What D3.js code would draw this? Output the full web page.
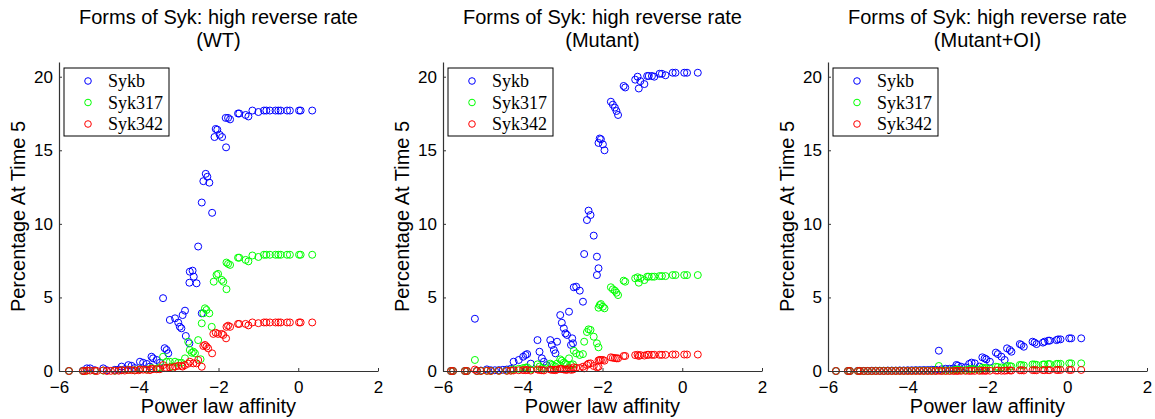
<!DOCTYPE html>
<html>
<head>
<meta charset="utf-8">
<script src="https://cdn.jsdelivr.net/npm/d3@7"></script>
<style>
  html, body { margin: 0; padding: 0; background: #fff; }
  svg { display: block; }
</style>
</head>
<body>
<svg id="chart" width="1155" height="419"></svg>
<script>
// ---------------- DATA ----------------
const seriesNames = ["Sykb", "Syk317", "Syk342"];
const panelSubtitles = ["(WT)", "(Mutant)", "(Mutant+OI)"];
const mainTitle = "Forms of Syk: high reverse rate";
const xLabel = "Power law affinity";
const yLabel = "Percentage At Time 5";
const xTicks = [-6, -4, -2, 0, 2];
const yTicks = [0, 5, 10, 15, 20];

// Panel 1: WT  ([affinity, percentage])
const wtSykb = [[-5.75,0],[-5.4,0.02],[-5.3,0.18],[-5.22,0.18],[-5.1,0.05],[-4.89,0.18],[-4.8,0.05],[-4.6,0.08],[-4.5,0.1],[-4.43,0.3],[-4.35,0.12],[-4.26,0.4],[-4.18,0.35],[-4.1,0.2],[-3.97,0.63],[-3.89,0.56],[-3.8,0.48],[-3.72,0.3],[-3.68,0.97],[-3.64,0.86],[-3.55,0.75],[-3.47,0.56],[-3.39,4.95],[-3.35,1.55],[-3.3,1.43],[-3.26,1.2],[-3.22,3.47],[-3.09,3.58],[-3.01,3.29],[-2.97,3.01],[-2.93,2.9],[-2.9,3.8],[-2.84,4.1],[-2.82,2.38],[-2.73,1.88],[-2.72,6.75],[-2.73,6.0],[-2.65,6.82],[-2.62,6.41],[-2.55,5.96],[-2.51,8.46],[-2.42,11.45],[-2.42,3.92],[-2.38,12.9],[-2.32,13.4],[-2.28,13.2],[-2.23,12.8],[-2.16,10.75],[-2.1,15.9],[-2.07,16.45],[-2.03,16.4],[-1.97,16.05],[-1.91,15.9],[-1.81,15.2],[-1.82,17.2],[-1.76,17.2],[-1.71,17.1],[-1.51,17.5],[-1.48,17.5],[-1.32,17.4],[-1.25,17.3],[-1.15,17.7],[-1.0,17.6],[-0.86,17.7],[-0.8,17.7],[-0.71,17.7],[-0.57,17.7],[-0.5,17.7],[-0.44,17.7],[-0.28,17.7],[-0.21,17.7],[0.02,17.7],[0.06,17.7],[0.35,17.7]];
const wtSyk317 = [[-5.75,0],[-5.4,0],[-5.3,0.02],[-5.1,0.01],[-4.89,0.03],[-4.6,0.02],[-4.43,0.05],[-4.26,0.08],[-4.1,0.05],[-3.97,0.12],[-3.8,0.1],[-3.68,0.2],[-3.55,0.16],[-3.47,0.25],[-3.39,0.97],[-3.3,0.63],[-3.22,0.63],[-3.15,0.3],[-3.09,0.63],[-3.01,0.56],[-2.93,0.56],[-2.84,0.86],[-2.76,1.99],[-2.72,1.43],[-2.67,1.24],[-2.63,1.31],[-2.59,1.2],[-2.51,2.1],[-2.45,0.8],[-2.42,3.24],[-2.38,3.92],[-2.34,4.26],[-2.3,4.15],[-2.23,3.92],[-2.17,3.0],[-2.12,6.07],[-2.05,6.53],[-2.01,6.6],[-1.92,6.19],[-1.88,6.07],[-1.8,5.56],[-1.8,7.37],[-1.76,7.28],[-1.71,7.21],[-1.51,7.7],[-1.48,7.7],[-1.32,7.55],[-1.25,7.45],[-1.15,7.85],[-1.0,7.75],[-0.86,7.9],[-0.8,7.9],[-0.71,7.9],[-0.57,7.9],[-0.5,7.9],[-0.44,7.9],[-0.28,7.9],[-0.21,7.9],[0.02,7.9],[0.06,7.9],[0.35,7.9]];
const wtSyk342 = [[-5.75,0],[-5.4,0],[-5.35,0],[-5.3,0.03],[-5.22,0.03],[-5.1,0.02],[-5.05,0],[-4.89,0.04],[-4.8,0],[-4.7,0.01],[-4.6,0.02],[-4.5,0.02],[-4.43,0.06],[-4.35,0.03],[-4.26,0.07],[-4.18,0.06],[-4.1,0.04],[-4.0,0.05],[-3.97,0.1],[-3.89,0.09],[-3.8,0.08],[-3.72,0.06],[-3.68,0.15],[-3.64,0.13],[-3.55,0.12],[-3.47,0.12],[-3.39,0.4],[-3.35,0.2],[-3.3,0.2],[-3.22,0.25],[-3.15,0.2],[-3.09,0.3],[-3.01,0.35],[-2.93,0.35],[-2.9,0.3],[-2.84,0.4],[-2.76,0.5],[-2.72,0.63],[-2.63,0.52],[-2.55,0.52],[-2.51,0.75],[-2.42,0.29],[-2.38,1.7],[-2.34,1.77],[-2.3,1.66],[-2.26,1.54],[-2.16,1.2],[-2.13,2.52],[-2.07,2.6],[-2.01,2.52],[-1.92,2.52],[-1.88,2.45],[-1.81,2.22],[-1.8,3.0],[-1.76,3.08],[-1.71,3.0],[-1.51,3.2],[-1.48,3.2],[-1.32,3.2],[-1.25,3.1],[-1.15,3.3],[-1.0,3.25],[-0.86,3.3],[-0.8,3.3],[-0.71,3.3],[-0.57,3.3],[-0.5,3.3],[-0.44,3.3],[-0.28,3.3],[-0.21,3.3],[0.02,3.3],[0.06,3.3],[0.35,3.3]];

// Panel 2: Mutant
const mutSykb = [[-5.8,0],[-5.75,0],[-5.45,0],[-5.4,0],[-5.2,3.55],[-5.15,0.02],[-5.05,0.03],[-4.9,0.11],[-4.8,0.05],[-4.7,0.05],[-4.6,0.06],[-4.5,0.08],[-4.4,0.1],[-4.3,0.15],[-4.23,0.63],[-4.1,0.75],[-3.99,0.97],[-3.93,1.09],[-3.89,1.15],[-3.8,0.5],[-3.63,2.1],[-3.58,1.31],[-3.52,0.86],[-3.47,0.63],[-3.4,0.4],[-3.31,2.1],[-3.27,1.77],[-3.22,1.43],[-3.18,1.2],[-3.14,1.99],[-3.06,3.8],[-3.02,3.28],[-2.97,2.9],[-2.93,2.56],[-2.89,2.45],[-2.84,4.03],[-2.79,1.77],[-2.76,2.22],[-2.74,1.88],[-2.72,5.69],[-2.66,5.73],[-2.57,5.46],[-2.49,4.71],[-2.46,7.95],[-2.39,10.26],[-2.35,10.9],[-2.3,10.6],[-2.22,9.2],[-2.14,6.52],[-2.14,7.77],[-2.1,6.98],[-2.1,15.5],[-2.07,15.8],[-2.04,15.75],[-1.99,15.4],[-1.95,15.0],[-1.79,18.3],[-1.74,18.1],[-1.69,17.9],[-1.65,17.67],[-1.61,17.4],[-1.47,19.37],[-1.43,19.27],[-1.18,19.8],[-1.12,20.0],[-1.09,19.2],[-1.05,19.7],[-0.95,19.5],[-0.88,20.05],[-0.84,20.05],[-0.76,20.05],[-0.7,20.0],[-0.57,20.2],[-0.51,20.2],[-0.42,20.1],[-0.24,20.27],[-0.17,20.27],[0.05,20.27],[0.12,20.27],[0.39,20.27]];
const mutSyk317 = [[-5.8,0],[-5.75,0],[-5.45,0],[-5.4,0],[-5.2,0.75],[-5.15,0],[-5.05,0.01],[-4.9,0.02],[-4.8,0.01],[-4.6,0.02],[-4.4,0.03],[-4.3,0.04],[-4.23,0.12],[-4.1,0.15],[-3.99,0.2],[-3.93,0.22],[-3.89,0.25],[-3.8,0.1],[-3.63,0.45],[-3.58,0.3],[-3.52,0.2],[-3.47,0.15],[-3.31,0.5],[-3.27,0.42],[-3.22,0.35],[-3.18,0.3],[-3.14,0.5],[-3.06,0.79],[-3.02,0.7],[-2.97,0.57],[-2.93,0.48],[-2.89,0.41],[-2.84,0.86],[-2.79,0.4],[-2.74,0.45],[-2.72,1.38],[-2.66,1.2],[-2.57,1.09],[-2.49,1.15],[-2.46,1.99],[-2.39,2.65],[-2.35,2.83],[-2.3,2.79],[-2.22,2.33],[-2.14,1.88],[-2.1,1.61],[-2.1,4.3],[-2.07,4.48],[-2.04,4.55],[-1.99,4.37],[-1.95,4.26],[-1.79,5.69],[-1.74,5.55],[-1.69,5.46],[-1.65,5.32],[-1.61,5.16],[-1.47,6.14],[-1.43,6.07],[-1.18,6.3],[-1.12,6.37],[-1.09,6.0],[-1.05,6.3],[-0.95,6.18],[-0.88,6.41],[-0.84,6.41],[-0.76,6.41],[-0.7,6.41],[-0.57,6.45],[-0.51,6.45],[-0.42,6.45],[-0.24,6.52],[-0.17,6.52],[0.05,6.52],[0.12,6.52],[0.39,6.52]];
const mutSyk342 = [[-5.8,0],[-5.75,0],[-5.45,0],[-5.4,0],[-5.2,0.1],[-5.15,0],[-5.05,0],[-4.9,0.01],[-4.8,0],[-4.6,0.01],[-4.4,0.01],[-4.3,0.02],[-4.23,0.04],[-4.1,0.05],[-3.99,0.06],[-3.93,0.06],[-3.89,0.07],[-3.8,0.03],[-3.63,0.1],[-3.58,0.07],[-3.52,0.05],[-3.47,0.04],[-3.31,0.1],[-3.27,0.08],[-3.22,0.07],[-3.18,0.06],[-3.14,0.1],[-3.06,0.15],[-3.02,0.13],[-2.97,0.1],[-2.93,0.09],[-2.89,0.08],[-2.84,0.18],[-2.79,0.08],[-2.74,0.1],[-2.72,0.25],[-2.66,0.22],[-2.57,0.2],[-2.49,0.29],[-2.46,0.18],[-2.39,0.41],[-2.35,0.5],[-2.3,0.52],[-2.22,0.34],[-2.14,0.25],[-2.1,0.29],[-2.1,0.72],[-2.07,0.75],[-2.04,0.75],[-1.99,0.75],[-1.95,0.7],[-1.79,0.93],[-1.74,0.9],[-1.69,0.88],[-1.65,0.86],[-1.61,0.86],[-1.47,1.02],[-1.43,1.02],[-1.18,1.08],[-1.12,1.1],[-1.09,1.02],[-1.05,1.08],[-0.95,1.05],[-0.88,1.1],[-0.84,1.1],[-0.76,1.1],[-0.7,1.1],[-0.57,1.1],[-0.51,1.1],[-0.42,1.1],[-0.24,1.12],[-0.17,1.12],[0.05,1.12],[0.12,1.12],[0.39,1.12]];

// Panel 3: Mutant+OI
const oiSykb = [[-5.8,0],[-5.5,0],[-5.45,0],[-5.25,0.01],[-5.2,0.01],[-5.1,0.01],[-5.0,0.01],[-4.9,0.02],[-4.8,0.02],[-4.7,0.02],[-4.6,0.02],[-4.5,0.03],[-4.4,0.03],[-4.3,0.03],[-4.2,0.04],[-4.1,0.04],[-4.0,0.05],[-3.9,0.05],[-3.8,0.06],[-3.7,0.06],[-3.6,0.07],[-3.5,0.07],[-3.4,0.08],[-3.3,0.09],[-3.22,1.38],[-3.15,0.12],[-3.05,0.15],[-2.95,0.15],[-2.85,0.18],[-2.78,0.41],[-2.74,0.36],[-2.66,0.29],[-2.55,0.25],[-2.46,0.48],[-2.4,0.57],[-2.32,0.52],[-2.2,0.3],[-2.13,0.93],[-2.07,0.86],[-2.03,0.79],[-1.94,0.63],[-1.79,1.25],[-1.74,1.15],[-1.65,0.97],[-1.57,0.75],[-1.51,1.54],[-1.44,1.43],[-1.4,1.31],[-1.19,1.83],[-1.15,1.77],[-1.09,1.65],[-0.87,1.99],[-0.82,1.93],[-0.77,1.83],[-0.61,1.93],[-0.57,1.99],[-0.48,2.06],[-0.44,2.06],[-0.27,2.1],[-0.23,2.15],[-0.17,2.15],[0.05,2.22],[0.1,2.22],[0.35,2.22]];
const oiSyk317 = [[-5.8,0],[-5.5,0],[-5.45,0],[-5.25,0],[-5.2,0],[-5.1,0],[-5.0,0],[-4.9,0],[-4.8,0.01],[-4.7,0.01],[-4.6,0.01],[-4.5,0.01],[-4.4,0.01],[-4.3,0.01],[-4.2,0.01],[-4.1,0.01],[-4.0,0.01],[-3.9,0.01],[-3.8,0.02],[-3.7,0.02],[-3.6,0.02],[-3.5,0.02],[-3.4,0.02],[-3.3,0.02],[-3.22,0.34],[-3.15,0.03],[-3.05,0.04],[-2.95,0.04],[-2.85,0.05],[-2.78,0.1],[-2.74,0.09],[-2.66,0.07],[-2.55,0.06],[-2.46,0.12],[-2.4,0.14],[-2.32,0.13],[-2.2,0.08],[-2.13,0.22],[-2.07,0.2],[-2.03,0.19],[-1.94,0.16],[-1.79,0.29],[-1.74,0.27],[-1.65,0.24],[-1.57,0.2],[-1.51,0.34],[-1.44,0.33],[-1.4,0.31],[-1.19,0.41],[-1.15,0.4],[-1.09,0.38],[-0.87,0.45],[-0.82,0.44],[-0.77,0.42],[-0.61,0.44],[-0.57,0.45],[-0.48,0.47],[-0.44,0.47],[-0.27,0.48],[-0.23,0.49],[-0.17,0.49],[0.05,0.52],[0.1,0.52],[0.35,0.52]];
const oiSyk342 = [[-5.8,0],[-5.5,0],[-5.45,0],[-5.25,0],[-5.2,0],[-5.1,0],[-5.0,0],[-4.9,0],[-4.8,0],[-4.7,0],[-4.6,0],[-4.5,0],[-4.4,0],[-4.3,0],[-4.2,0],[-4.1,0],[-4.0,0],[-3.9,0],[-3.8,0],[-3.7,0],[-3.6,0],[-3.5,0],[-3.4,0],[-3.3,0],[-3.22,0.02],[-3.15,0],[-3.05,0],[-2.95,0],[-2.85,0],[-2.78,0.01],[-2.74,0.01],[-2.66,0.01],[-2.55,0.01],[-2.46,0.01],[-2.4,0.01],[-2.32,0.01],[-2.2,0.01],[-2.13,0.02],[-2.07,0.02],[-2.03,0.02],[-1.94,0.02],[-1.79,0.03],[-1.74,0.03],[-1.65,0.02],[-1.57,0.02],[-1.51,0.04],[-1.44,0.04],[-1.4,0.03],[-1.19,0.05],[-1.15,0.05],[-1.09,0.04],[-0.87,0.06],[-0.82,0.06],[-0.77,0.05],[-0.61,0.06],[-0.57,0.06],[-0.48,0.06],[-0.44,0.06],[-0.27,0.07],[-0.23,0.07],[-0.17,0.07],[0.05,0.07],[0.1,0.07],[0.35,0.07]];

const panelData = [
  [wtSykb, wtSyk317, wtSyk342],
  [mutSykb, mutSyk317, mutSyk342],
  [oiSykb, oiSyk317, oiSyk342]
];

// ---------------- STYLE / LAYOUT ----------------
const colors = ["#0000ff", "#00ff00", "#ff0000"];
const panelLeft = [59, 443, 828];
const plotW = 319;
const plotTop = 62;
const plotBottom = 371;
const sansFont = "'Liberation Sans', Arial, Helvetica, sans-serif";
const serifFont = "'Liberation Serif', 'Times New Roman', serif";

const svg = d3.select("#chart");

panelData.forEach((series, pi) => {
  const x0 = panelLeft[pi];
  const g = svg.append("g");

  const x = d3.scaleLinear().domain([-6, 2]).range([x0, x0 + plotW]);
  const y = d3.scaleLinear().domain([0, 21]).range([plotBottom, plotTop]);

  // points (Sykb first, then Syk317, then Syk342 on top)
  series.forEach((pts, si) => {
    g.append("g")
      .selectAll("circle")
      .data(pts)
      .join("circle")
      .attr("cx", d => x(d[0]))
      .attr("cy", d => y(d[1]))
      .attr("r", 3.5)
      .attr("fill", "none")
      .attr("stroke", colors[si])
      .attr("stroke-width", 1);
  });

  // axes
  const xAxis = d3.axisBottom(x).tickValues(xTicks)
    .tickFormat(d => d < 0 ? "\u2212" + Math.abs(d) : String(d))
    .tickSizeInner(-3).tickSizeOuter(0).tickPadding(10);
  const yAxis = d3.axisLeft(y).tickValues(yTicks)
    .tickSizeInner(-3).tickSizeOuter(0).tickPadding(6);

  const gx = g.append("g").attr("transform", `translate(0,${plotBottom})`).call(xAxis);
  const gy = g.append("g").attr("transform", `translate(${x0},0)`).call(yAxis);
  [gx, gy].forEach(a => {
    a.select(".domain").attr("stroke", "#333").attr("stroke-width", 1.2);
    a.selectAll(".tick line").attr("stroke", "#333");
    a.selectAll(".tick text").attr("fill", "#000")
      .style("font-family", sansFont).style("font-size", "17px");
  });

  const cx = x0 + plotW / 2;
  // title
  g.append("text").attr("x", cx).attr("y", 24).attr("text-anchor", "middle")
    .style("font-family", sansFont).style("font-size", "20px").attr("fill", "#000")
    .text(mainTitle);
  g.append("text").attr("x", cx).attr("y", 47).attr("text-anchor", "middle")
    .style("font-family", sansFont).style("font-size", "20px").attr("fill", "#000")
    .text(panelSubtitles[pi]);

  // axis labels
  g.append("text").attr("x", cx).attr("y", 413).attr("text-anchor", "middle")
    .style("font-family", sansFont).style("font-size", "20px").attr("fill", "#000")
    .text(xLabel);
  const ly = (plotTop + plotBottom) / 2;
  g.append("text")
    .attr("transform", `translate(${x0 - 34},${ly}) rotate(-90)`)
    .attr("text-anchor", "middle")
    .style("font-family", sansFont).style("font-size", "20px").attr("fill", "#000")
    .text(yLabel);

  // legend
  const lg = g.append("g").attr("transform", `translate(${x0 + 5},68)`);
  lg.append("rect").attr("x", 0).attr("y", 0).attr("width", 105).attr("height", 68)
    .attr("fill", "#fff").attr("stroke", "#000").attr("stroke-width", 1);
  seriesNames.forEach((name, si) => {
    const ry = 13 + si * 21.5;
    lg.append("circle").attr("cx", 24).attr("cy", ry).attr("r", 3.3)
      .attr("fill", "none").attr("stroke", colors[si]).attr("stroke-width", 1);
    lg.append("text").attr("x", 44).attr("y", ry).attr("dy", "0.35em")
      .style("font-family", serifFont).style("font-size", "18px").attr("fill", "#000")
      .text(name);
  });
});
</script>
</body>
</html>
